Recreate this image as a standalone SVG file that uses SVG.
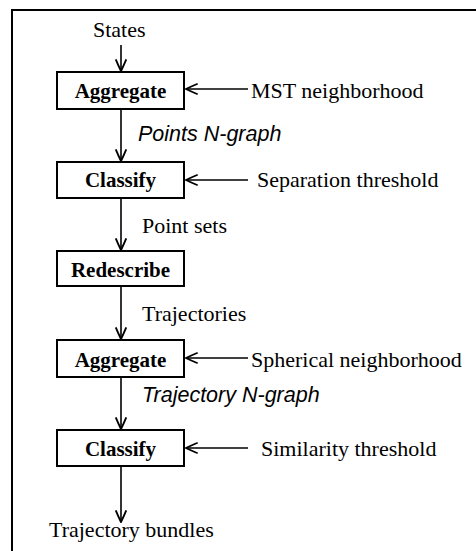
<svg xmlns="http://www.w3.org/2000/svg" width="476" height="551" viewBox="0 0 476 551">
<style>
.box{fill:#fff;stroke:#000;stroke-width:2}
.bt{font-family:"Liberation Serif","Times New Roman",serif;font-weight:bold;font-size:21px;text-anchor:middle;fill:#000}
.lt{font-family:"Liberation Serif","Times New Roman",serif;font-size:22px;fill:#000}
.it{font-family:"Liberation Sans",Arial,sans-serif;font-style:italic;font-size:21.5px;fill:#000}
.ed{stroke:#000;stroke-width:1.6;fill:none;marker-end:url(#ah)}
.fr{stroke:#000;stroke-width:2;fill:none}
</style>
<defs>
<marker id="ah" markerUnits="userSpaceOnUse" markerWidth="14" markerHeight="14" viewBox="-11 -6 12 12" refX="0" refY="0" orient="auto">
<path d="M -10 -4.5 Q -4 -2 0 0 Q -4 2 -10 4.5" fill="none" stroke="#000" stroke-width="1.6"/>
</marker>
</defs>
<path class="fr" d="M 12 551 L 12 10 L 476 10"/>
<g id="connectors">
<line class="ed" x1="121" y1="45" x2="121" y2="71"/>
<line class="ed" x1="121" y1="109" x2="121" y2="161"/>
<line class="ed" x1="121" y1="198" x2="121" y2="250"/>
<line class="ed" x1="121" y1="286" x2="121" y2="339"/>
<line class="ed" x1="121" y1="377" x2="121" y2="429"/>
<line class="ed" x1="121" y1="466" x2="121" y2="522"/>
<line class="ed" x1="248" y1="89" x2="186" y2="89"/>
<line class="ed" x1="248" y1="180" x2="186" y2="180"/>
<line class="ed" x1="248" y1="358" x2="186" y2="358"/>
<line class="ed" x1="248" y1="448" x2="186" y2="448"/>
</g>
<g id="aggregate1"><rect class="box" x="57" y="72" width="127" height="37"/><text class="bt" x="120.5" y="98">Aggregate</text></g>
<g id="classify1"><rect class="box" x="57" y="162" width="127" height="36"/><text class="bt" x="120.5" y="187">Classify</text></g>
<g id="redescribe"><rect class="box" x="57" y="251" width="127" height="35"/><text class="bt" x="120.5" y="277">Redescribe</text></g>
<g id="aggregate2"><rect class="box" x="57" y="340" width="127" height="37"/><text class="bt" x="120.5" y="367">Aggregate</text></g>
<g id="classify2"><rect class="box" x="57" y="430" width="127" height="36"/><text class="bt" x="120.5" y="456">Classify</text></g>
<g id="states"><text class="lt" x="93" y="37">States</text></g>
<g id="mst"><text class="lt" x="251" y="98">MST neighborhood</text></g>
<g id="sep"><text class="lt" x="257" y="187">Separation threshold</text></g>
<g id="sph"><text class="lt" x="251" y="367">Spherical neighborhood</text></g>
<g id="sim"><text class="lt" x="261" y="456">Similarity threshold</text></g>
<g id="bundles"><text class="lt" x="49" y="537">Trajectory bundles</text></g>
<text class="it" x="138" y="141">Points N-graph</text>
<text class="lt" x="142" y="233">Point sets</text>
<text class="lt" x="142" y="321">Trajectories</text>
<text class="it" x="142" y="402">Trajectory N-graph</text>
</svg>
